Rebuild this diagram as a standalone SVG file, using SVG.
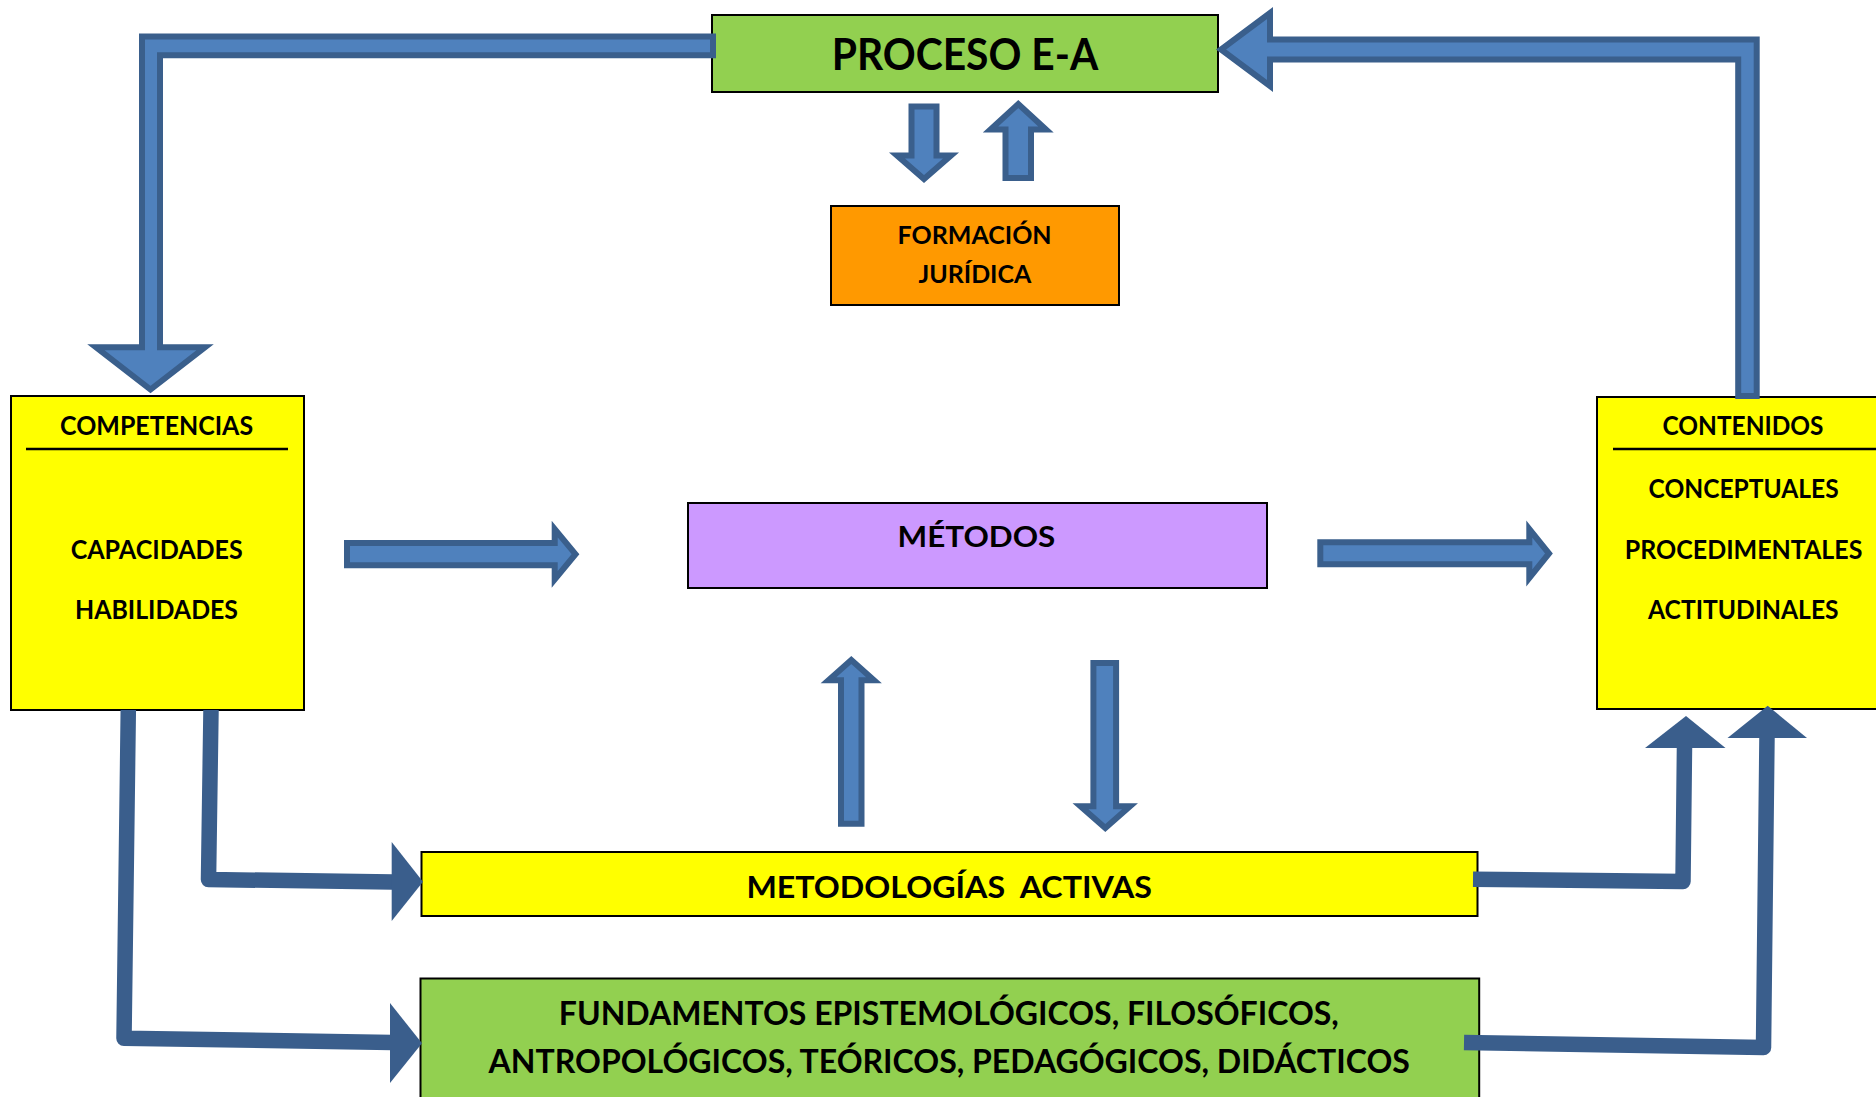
<svg xmlns="http://www.w3.org/2000/svg" width="1876" height="1097" viewBox="0 0 1876 1097">
<style>
.box{stroke:#000;stroke-width:2}
.t{font-family:Lato,"Liberation Sans",sans-serif;font-weight:700;fill:#000;text-anchor:middle;white-space:pre}
.blk{fill:#4F81BD;stroke:#3A5F8C;stroke-width:6;stroke-linejoin:miter}
.ln{fill:none;stroke:#3A5E8C;stroke-width:15.5;stroke-linejoin:round;stroke-linecap:butt}
.hd{fill:#3A5E8C}
</style>
<rect width="1876" height="1097" fill="#fff"/>
<g id="proceso">
<rect class="box" x="712" y="15" width="506" height="77" fill="#92D050"/>
<text class="t" x="965" y="70" font-size="43" textLength="266.5" lengthAdjust="spacingAndGlyphs">PROCESO E-A</text>
</g>
<g id="formacion">
<rect class="box" x="831" y="206" width="288" height="99" fill="#FF9900"/>
<text class="t" x="974.6" y="244" font-size="24" textLength="154" lengthAdjust="spacingAndGlyphs">FORMACIÓN</text>
<text class="t" x="974.9" y="283" font-size="24" textLength="112.8" lengthAdjust="spacingAndGlyphs">JURÍDICA</text>
</g>
<g id="competencias">
<rect class="box" x="11" y="396" width="293" height="314" fill="#FFFF00"/>
<text class="t" x="156.6" y="435" font-size="26" textLength="193" lengthAdjust="spacingAndGlyphs">COMPETENCIAS</text>
<line x1="26" y1="449" x2="288" y2="449" stroke="#000" stroke-width="2.5"/>
<text class="t" x="156.7" y="559" font-size="26" textLength="172" lengthAdjust="spacingAndGlyphs">CAPACIDADES</text>
<text class="t" x="156.5" y="619" font-size="26" textLength="163" lengthAdjust="spacingAndGlyphs">HABILIDADES</text>
</g>
<g id="contenidos">
<rect class="box" x="1597" y="397" width="300" height="312" fill="#FFFF00"/>
<text class="t" x="1743" y="435" font-size="26" textLength="161" lengthAdjust="spacingAndGlyphs">CONTENIDOS</text>
<line x1="1613" y1="449" x2="1880" y2="449" stroke="#000" stroke-width="2.5"/>
<text class="t" x="1743.6" y="498" font-size="26" textLength="190" lengthAdjust="spacingAndGlyphs">CONCEPTUALES</text>
<text class="t" x="1743.6" y="559" font-size="26" textLength="237.6" lengthAdjust="spacingAndGlyphs">PROCEDIMENTALES</text>
<text class="t" x="1743.3" y="619" font-size="26" textLength="190.5" lengthAdjust="spacingAndGlyphs">ACTITUDINALES</text>
</g>
<g id="metodos">
<rect class="box" x="688" y="503" width="579" height="85" fill="#CC99FF"/>
<text class="t" x="976.4" y="547" font-size="29" textLength="157.7" lengthAdjust="spacingAndGlyphs">MÉTODOS</text>
</g>
<g id="metodologias">
<rect class="box" x="421.5" y="852" width="1056" height="64" fill="#FFFF00"/>
<text class="t" x="949.2" y="898" font-size="31" textLength="405.6" lengthAdjust="spacingAndGlyphs">METODOLOGÍAS  ACTIVAS</text>
</g>
<g id="fundamentos">
<rect class="box" x="420.5" y="978.5" width="1058.7" height="130" fill="#92D050"/>
<text class="t" x="948.8" y="1025" font-size="32" textLength="780" lengthAdjust="spacingAndGlyphs">FUNDAMENTOS EPISTEMOLÓGICOS, FILOSÓFICOS,</text>
<text class="t" x="949.25" y="1072.7" font-size="32" textLength="921.3" lengthAdjust="spacingAndGlyphs">ANTROPOLÓGICOS, TEÓRICOS, PEDAGÓGICOS, DIDÁCTICOS</text>
</g>
<g id="connectors">
<path class="blk" d="M713 36.5 H142 V347.3 H96 L150.5 389.5 L205 347.3 H160 V55.3 H713 Z"/>
<path class="blk" d="M1270 59.5 V86 L1221 49.5 L1270 13 V39.5 H1756.7 V396 H1738.2 V59.5 Z"/>
<path class="blk" d="M911.5 106.5 H936.5 V155.5 H951 L924 179 L897 155.5 H911.5 Z"/>
<path class="blk" d="M1005.5 178 H1031 V129.5 H1046 L1018.3 104 L990.5 129.5 H1005.5 Z"/>
<path class="blk" d="M347 543 H554.7 V529 L575.5 554.2 L554.7 579.5 V565.3 H347 Z"/>
<path class="blk" d="M1320.3 542.3 H1529.3 V529 L1549 553.5 L1529.3 578 V564.3 H1320.3 Z"/>
<path class="blk" d="M841 823.7 H861.5 V680.3 H874 L851.3 660 L828.5 680.3 H841 Z"/>
<path class="blk" d="M1093.4 663 H1116.1 V806.3 H1130 L1105.3 828 L1080.5 806.3 H1093.4 Z"/>
<path class="ln" d="M211 710 L208.5 879.5 L393 882"/>
<polygon class="hd" points="391.7,842 423,881.7 391.7,921"/>
<path class="ln" d="M128.3 710 L124 1038.3 L392 1042.5"/>
<polygon class="hd" points="390,1003 422,1043.3 390,1083"/>
<path class="ln" d="M1473 879.2 L1683 881.5 L1684.5 746"/>
<polygon class="hd" points="1645,748 1686,716 1725.5,748"/>
<path class="ln" d="M1464 1042.5 L1763.5 1047.5 L1767 736"/>
<polygon class="hd" points="1727.5,738 1767.7,705.7 1807,738"/>
</g>
</svg>
